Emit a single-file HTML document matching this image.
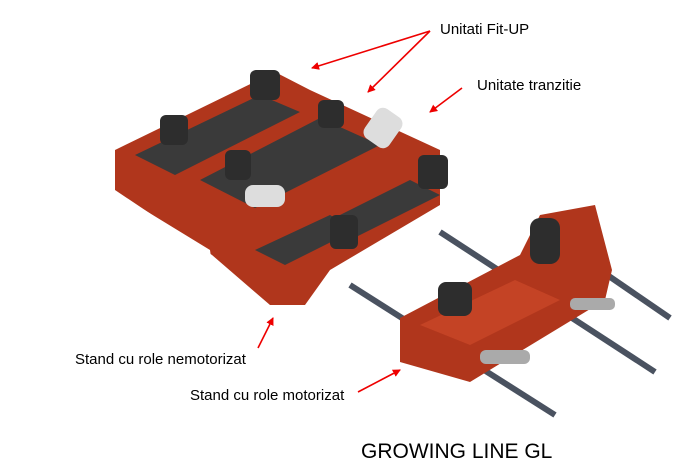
<!DOCTYPE html>
<html><head><style>
body{margin:0;background:#fff;width:684px;height:476px;overflow:hidden;font-family:"Liberation Sans",Arial,sans-serif}
svg{position:absolute;left:0;top:0}
</style></head><body>
<svg width="684" height="476" viewBox="0 0 684 476">
<defs><marker id="a" markerWidth="8" markerHeight="8" refX="7" refY="4" orient="auto" markerUnits="userSpaceOnUse"><path d="M0,0 L8,4 L0,8 z" fill="#e00"/></marker></defs>
<line x1="350" y1="285" x2="555" y2="415" stroke="#4a5260" stroke-width="6"/>
<line x1="440" y1="232" x2="655" y2="372" stroke="#4a5260" stroke-width="6"/>
<line x1="600" y1="270" x2="670" y2="318" stroke="#4a5260" stroke-width="6"/>
<polygon points="115,150 275,72 310,90 440,150 440,205 330,270 305,305 270,305 212,255 115,190" fill="#b0361c"/>
<polygon points="135,155 260,95 300,112 175,175" fill="#3a3a3a"/>
<polygon points="200,180 320,118 380,145 255,208" fill="#3a3a3a"/>
<polygon points="320,225 410,180 440,195 350,240" fill="#3a3a3a"/>
<polygon points="255,250 330,215 355,230 285,265" fill="#3a3a3a"/>
<polygon points="120,195 210,250 215,285 210,255 120,200" fill="#fff"/>
<rect x="250" y="70" width="30" height="30" rx="6" fill="#2d2d2d"/>
<rect x="160" y="115" width="28" height="30" rx="6" fill="#2d2d2d"/>
<rect x="318" y="100" width="26" height="28" rx="6" fill="#2d2d2d"/>
<rect x="225" y="150" width="26" height="30" rx="6" fill="#2d2d2d"/>
<rect x="418" y="155" width="30" height="34" rx="6" fill="#2d2d2d"/>
<rect x="330" y="215" width="28" height="34" rx="6" fill="#2d2d2d"/>
<rect x="368" y="110" width="30" height="36" rx="8" fill="#ddd" transform="rotate(35 383 128)"/>
<rect x="245" y="185" width="40" height="22" rx="8" fill="#ddd"/>
<polygon points="400,318 520,255 540,215 595,205 612,270 605,300 470,382 400,362" fill="#b0361c"/>
<polygon points="420,325 515,280 560,300 470,345" fill="#c44325"/>
<rect x="530" y="218" width="30" height="46" rx="10" fill="#2d2d2d"/>
<rect x="438" y="282" width="34" height="34" rx="8" fill="#2d2d2d"/>
<rect x="480" y="350" width="50" height="14" rx="6" fill="#aaa"/>
<rect x="570" y="298" width="45" height="12" rx="5" fill="#aaa"/>
<g stroke="#e00" stroke-width="1.6" fill="none">
<line x1="430" y1="31" x2="312" y2="68" marker-end="url(#a)"/>
<line x1="430" y1="31" x2="368" y2="92" marker-end="url(#a)"/>
<line x1="462" y1="88" x2="430" y2="112" marker-end="url(#a)"/>
<line x1="258" y1="348" x2="273" y2="318" marker-end="url(#a)"/>
<line x1="358" y1="392" x2="400" y2="370" marker-end="url(#a)"/>
</g>
<g font-size="15" fill="#000">
<text x="440" y="34">Unitati Fit-UP</text>
<text x="477" y="90">Unitate tranzitie</text>
<text x="75" y="364">Stand cu role nemotorizat</text>
<text x="190" y="400">Stand cu role motorizat</text>
<text x="361" y="458" font-size="21">GROWING LINE GL</text>
</g>
</svg>
</body></html>
